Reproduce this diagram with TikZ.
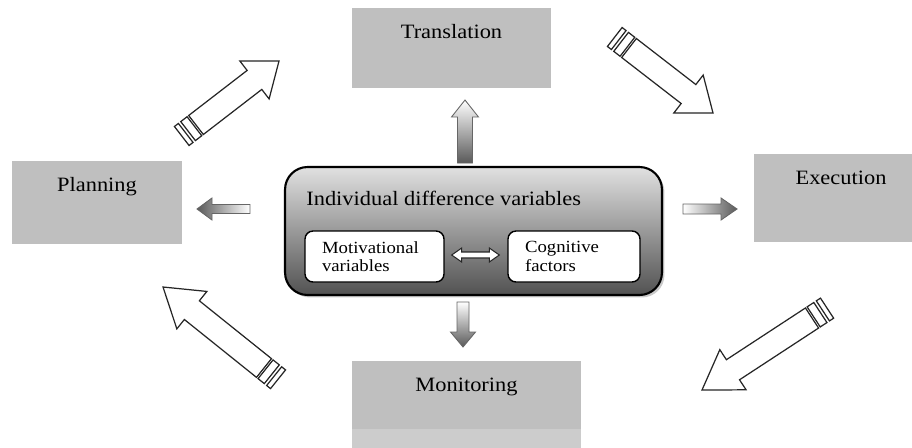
\documentclass[tikz,border=0pt]{standalone}
\usepackage{fontspec}
\setmainfont{Liberation Serif}[FakeStretch=1.1]
\usetikzlibrary{calc, positioning, shadows}

% fat arrow from #2 (tail) to #3 (tip): #4 half shaft, #5 half head, #6 head length
\newcommand{\blockarrow}[6][]{%
  \coordinate (ba-base) at ($(#3)!#6!(#2)$);
  \draw[#1] ($(#2)!#4!90:(#3)$) -- ($(ba-base)!#4!90:(#3)$)
    -- ($(ba-base)!#5!90:(#3)$) -- (#3)
    -- ($(ba-base)!#5!-90:(#3)$) -- ($(ba-base)!#4!-90:(#3)$)
    -- ($(#2)!#4!-90:(#3)$) -- cycle;}
% one band behind the tail #1 of an arrow pointing at #2, from #3 to #4
\newcommand{\tailband}[4]{%
  \coordinate (tb-a) at ($(#1)!#3!180:(#2)$);
  \coordinate (tb-b) at ($(#1)!#4!180:(#2)$);
  \draw[hollow] ($(tb-a)!0.24cm!90:(#2)$) -- ($(tb-b)!0.24cm!90:(#2)$)
    -- ($(tb-b)!0.24cm!-90:(#2)$) -- ($(tb-a)!0.24cm!-90:(#2)$) -- cycle;}
% the big open arrow with two bands at its tail
\newcommand{\cyclearrow}[3]{%
  \blockarrow[hollow]{#1}{#2}{0.24cm}{0.48cm}{#3}
  \tailband{#1}{#2}{0.04cm}{0.2cm}
  \tailband{#1}{#2}{0.26cm}{0.36cm}}

\begin{document}
\begin{tikzpicture}[x=0.02cm, y=-0.02cm,
  gbox/.style={fill=black!25, inner sep=0},
  glbl/.style={font=\fontsize{11.6}{14}\selectfont, text=black, inner sep=0},
  wbox/.style={draw=black, line width=0.8pt, fill=white, rounded corners=0.16cm,
               align=left, inner xsep=0.34cm, inner ysep=0, minimum height=1.02cm,
               font=\fontsize{9.7}{10.5}\selectfont},
  hollow/.style={draw=black!85, line width=0.7pt, fill=white},
  flat/.style={draw=black!60, line width=0.5pt}]
  \useasboundingbox (0,0) rectangle (912,447);
  \clip (0,0) rectangle (912,447);
  % ---- the four stages
  \node[gbox, minimum width=3.98cm, minimum height=1.6cm]  (trans) at (451.5,48)  {};
  \node[gbox, minimum width=3.4cm,  minimum height=1.66cm] (plan)  at (97,202.5)  {};
  \node[gbox, minimum width=3.48cm, minimum height=1.76cm] (exec)  at (841,198)   {};
  \node[gbox, minimum width=4.58cm, minimum height=1.36cm] (mon)   at (466.5,395) {};
  \fill[black!20] (mon.south west) rectangle ($(mon.south east)+(0,20)$);
  \node[glbl, below=0.33cm of trans.north] (transL) {Translation};
  \node[glbl, below=0.33cm of plan.north]  (planL)  {Planning};
  \node[glbl, below=0.33cm of exec.north]  (execL)  {Execution};
  \node[glbl, below=0.33cm of mon.north]   (monL)   {Monitoring};
  % ---- individual differences in the middle
  \node[draw=black, line width=1.2pt, rounded corners=0.45cm, minimum width=7.54cm,
        minimum height=2.56cm, top color=black!12, bottom color=black!68,
        drop shadow={shadow xshift=0.05cm, shadow yshift=-0.05cm, fill=black!35, opacity=0.6}]
        (idv) at (473.5,231) {};
  \node[glbl, below right=0.5cm and 0.44cm of idv.north west] (idvL) {Individual difference variables};
  \node[wbox, text width=2.1cm]  (mot) at (374.5,256.5) {Motivational\\variables};
  \node[wbox, text width=1.96cm] (cog) at (574,256.5)   {Cognitive\\factors};
  \coordinate (dl) at ($(mot.east)+(7,-1.5)$);
  \coordinate (dr) at ($(cog.west)+(-8,-1.5)$);
  \draw[hollow, line width=0.6pt] (dl) -- ++(10,-7) -- ++(0,4) -- ($(dr)+(-10,-3)$) -- ++(0,-4)
    -- (dr) -- ++(-10,7) -- ++(0,-4) -- ($(dl)+(10,3)$) -- ++(0,4) -- cycle;
  % ---- shaded arrows out of the middle box
  \coordinate (upT) at (465,163); \coordinate (upH) at (465,100);
  \coordinate (dnT) at (463,302); \coordinate (dnH) at (463,347);
  \coordinate (ltT) at (250,209); \coordinate (ltH) at (197,209);
  \coordinate (rtT) at (683,209); \coordinate (rtH) at (737,209);
  \blockarrow[flat, top color=white, bottom color=black!65]{upT}{upH}{0.15cm}{0.27cm}{0.34cm}
  \blockarrow[flat, top color=white, bottom color=black!65]{dnT}{dnH}{0.12cm}{0.25cm}{0.3cm}
  \blockarrow[flat, left color=black!65, right color=white]{ltT}{ltH}{0.09cm}{0.22cm}{0.3cm}
  \blockarrow[flat, left color=white, right color=black!65]{rtT}{rtH}{0.1cm}{0.22cm}{0.32cm}
  % ---- the cycle Planning -> Translation -> Execution -> Monitoring -> Planning
  \coordinate (c1T) at (196,125); \coordinate (c1H) at (279,61);
  \coordinate (c2T) at (629,48);  \coordinate (c2H) at (713,113);
  \coordinate (c3T) at (812,318); \coordinate (c3H) at (702,390);
  \coordinate (c4T) at (264,368); \coordinate (c4H) at (163,287);
  \cyclearrow{c1T}{c1H}{0.62cm}
  \cyclearrow{c2T}{c2H}{0.62cm}
  \cyclearrow{c3T}{c3H}{0.74cm}
  \cyclearrow{c4T}{c4H}{0.74cm}
\end{tikzpicture}
\end{document}
